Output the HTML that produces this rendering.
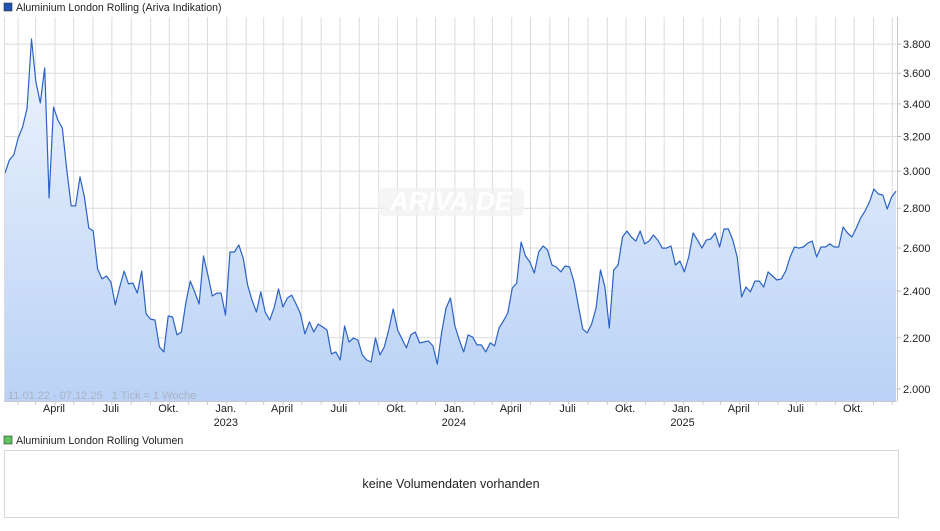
<!DOCTYPE html>
<html><head><meta charset="utf-8">
<style>
body{margin:0;background:#fff;width:940px;height:526px;overflow:hidden;font-family:"Liberation Sans",Arial,sans-serif;}
svg text{font-family:"Liberation Sans",Arial,sans-serif;}
</style></head>
<body>
<svg id="chart" width="940" height="526">
<defs>
<linearGradient id="fillg" x1="0" y1="0" x2="0" y2="1">
<stop offset="0" stop-color="#eef4fd"/><stop offset="1" stop-color="#bad2f6"/>
</linearGradient>
</defs>
<rect x="4" y="3" width="8" height="8" fill="#1f55b5" stroke="#333" stroke-width="0.6"/>
<text x="16" y="11" font-size="10.6" fill="#222">Aluminium London Rolling (Ariva Indikation)</text>
<g id="grid"></g>
<rect x="378" y="188" width="146" height="28" rx="6" fill="#f1f1f1" opacity="0.7"/>
<text x="451" y="210" font-size="26" font-style="italic" font-weight="bold" fill="#ffffff" text-anchor="middle">ARIVA.DE</text>
<g id="series"></g>
<g id="axes"></g>
<text x="8" y="399" font-size="11" fill="#a9b3c2" style="white-space:pre">11.01.22 - 07.12.25   1 Tick = 1 Woche</text>
<rect x="4" y="436" width="8" height="8" fill="#5ec55e" stroke="#333" stroke-width="0.6"/>
<text x="16" y="444" font-size="10.6" fill="#222">Aluminium London Rolling Volumen</text>
<rect x="4.5" y="450.5" width="894" height="67" fill="#fff" stroke="#d6d6d6"/>
<text x="451" y="488" font-size="12.6" fill="#222" text-anchor="middle">keine Volumendaten vorhanden</text>
</svg>
<script>
const startDate = "2022-01-11";
const endDate = "2025-12-07";
const yTicks = [2000,2200,2400,2600,2800,3000,3200,3400,3600,3800];
const monthNames = ["Jan.","","","April","","","Juli","","","Okt.","",""];
const prices = [2990,3063,3092,3191,3257,3374,3837,3542,3406,3635,2854,3380,3300,3251,3006,2812,2812,2968,2859,2699,2684,2501,2455,2468,2441,2339,2418,2491,2432,2436,2391,2491,2300,2278,2274,2163,2143,2291,2287,2212,2224,2347,2445,2396,2343,2562,2473,2378,2391,2391,2295,
2581,2581,2615,2552,2427,2360,2308,2396,2308,2274,2326,2409,2330,2369,2382,2343,2300,2216,2266,2224,2257,2245,2232,2135,2143,2111,2249,2183,2199,2191,2131,2111,2103,2199,2131,2163,2232,2321,2232,2195,2159,2212,2224,2179,2183,2187,2167,2095,
2224,2326,2369,2249,2191,2143,2212,2203,2171,2171,2143,2179,2167,2240,2270,2304,2414,2436,2629,2562,2533,2482,2581,2610,2591,2519,2510,2487,2515,2510,2441,2334,2236,2220,2257,2326,2496,2418,2240,2496,
2519,2654,2684,2654,2634,2684,2620,2634,2664,2639,2600,2600,2610,2519,2538,2487,2557,2674,2639,2600,2639,2644,2674,2605,2694,2694,2639,2557,2374,2418,2396,2445,2445,2418,2487,2468,2450,2455,2491,2557,2605,2600,2605,2624,2634,2557,2605,2605,2620,2605,2605,2704,2674,2654,2699,2750,2786,2833,2902,2875,2870,2796,2859,2891];

const NS="http://www.w3.org/2000/svg";
const X0=5, X1=896, YT=17, YB=401, PR=897;
const t0=Date.parse(startDate), t1=Date.parse(endDate);
function xScale(t){return X0+(t-t0)/(t1-t0)*(X1-X0);}
function yScale(v){return 389-1237*Math.log10(v/2000);}
function mk(tag,attrs,parent){const e=document.createElementNS(NS,tag);for(const k in attrs)e.setAttribute(k,attrs[k]);parent.appendChild(e);return e;}
const grid=document.getElementById('grid'), axes=document.getElementById('axes'), series=document.getElementById('series');

yTicks.forEach(v=>{
  const y=yScale(v);
  const l=mk('line',{x1:X0-1,x2:PR,y1:y,y2:y,stroke:'#dcdcdc','stroke-width':1},grid);
  
  
  const tk=mk('line',{x1:PR,x2:PR+4,y1:y,y2:y,stroke:'#bbb'},axes);
  
  
  const t=mk('text',{x:903,y:y+4,'font-size':11,fill:'#222'},axes);
  t.textContent=(v/1000).toFixed(3);
  
  
});
for(let yr=2022;yr<=2025;yr++){
  for(let m=0;m<12;m++){
    const t=Date.UTC(yr,m,1);
    if(t<t0||t>t1) continue;
    const x=xScale(t);
    const l=mk('line',{x1:x,x2:x,y1:YT,y2:YB,stroke:'#dcdcdc','stroke-width':1},grid);
    
    
    const tk=mk('line',{x1:x,x2:x,y1:YB,y2:YB+4,stroke:'#ccc'},axes);
    
    
    if(monthNames[m]){
      const tx=mk('text',{x:x-1,y:412,'font-size':11,fill:'#222','text-anchor':'middle'},axes);
      tx.textContent=monthNames[m];
      
      
      if(m===0){
        const ty=mk('text',{x:x-1,y:426,'font-size':11,fill:'#222','text-anchor':'middle'},axes);
        ty.textContent=String(yr);
        
        
      }
    }
  }
}
const fr=mk('line',{x1:PR+0.5,x2:PR+0.5,y1:YT,y2:YB,stroke:'#c8c8c8'},axes);


const fb=mk('line',{x1:X0-1,x2:PR,y1:YB+0.5,y2:YB+0.5,stroke:'#c8c8c8'},axes);


const fl=mk('line',{x1:4.5,x2:4.5,y1:YT,y2:YB,stroke:'#dcdcdc'},axes);



const n=prices.length;
const pts=prices.map((v,i)=>[xScale(t0+(t1-t0)*i/(n-1)),yScale(v)]);
const line=pts.map(p=>p[0].toFixed(1)+','+p[1].toFixed(1)).join(' ');
const area=mk('polygon',{points:line+' '+pts[n-1][0].toFixed(1)+','+YB+' '+pts[0][0].toFixed(1)+','+YB,fill:'url(#fillg)'},series);


const pl=mk('polyline',{points:line,fill:'none',stroke:'#2b62c4','stroke-width':1.2,'stroke-linejoin':'round'},series);


</script>
</body></html>
